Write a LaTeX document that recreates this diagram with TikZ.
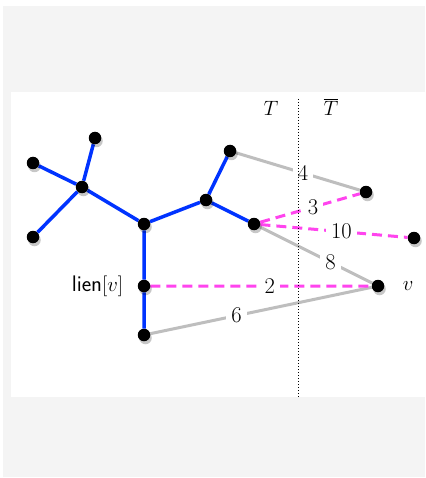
\documentclass[tikz,border=0pt]{standalone}
\usetikzlibrary{positioning,shadows}
\definecolor{arbre}{RGB}{0,51,255}
\definecolor{rose}{RGB}{255,68,238}
\definecolor{gris}{RGB}{190,190,190}
\definecolor{fond}{RGB}{244,244,244}
\pgfdeclarelayer{back}
\pgfdeclarelayer{edges}
\pgfsetlayers{back,edges,main}
\begin{document}
\begin{tikzpicture}[x=1pt, y=-1pt, line join=round,
	font=\fontsize{22.5}{26}\selectfont,
	dot/.style={circle, fill=black, inner sep=0pt, minimum size=12.5pt,
		drop shadow={shadow xshift=1.5pt, shadow yshift=-3pt, fill=black, opacity=.22, minimum size=16pt}},
	tree/.style={arbre, line width=3.5pt},
	cand/.style={rose, line width=3pt, dash pattern=on 10pt off 6pt},
	other/.style={gris, line width=3pt},
	w/.style={fill=white, text=black, inner xsep=5pt, inner ysep=1pt}]
	\useasboundingbox (0,0) rectangle (425,478);
	\begin{pgfonlayer}{back}
		\fill[fond] (3,6) rectangle (425,477);
		\fill[white] (11,92) rectangle (425,397);
	\end{pgfonlayer}
	\foreach \n/\x/\y in {t1/95/138, t2/33/163, t3/33/237, t4/82/187, t5/144/224, t6/206/200, t7/230/151, t8/254/224, lien/144/286, t9/144/335, u1/366/192, u2/414/238, v/378/286}
		\node[dot] (\n) at (\x,\y) {};
	\path (298,99) coordinate (cutTop) (298,397) coordinate (cutBot);
	\begin{pgfonlayer}{edges}
		\draw[tree] (t1)--(t4) (t2)--(t4) (t3)--(t4) (t4)--(t5)--(t6)--(t7) (t6)--(t8) (t5)--(lien)--(t9);
		\draw[other] (t7)--(u1) node[w,pos=.54]{4} (t8)--(v) node[w,pos=.63]{8} (t9)--(v) node[w,pos=.39]{6};
		\draw[cand] (t8)--(u1) node[w,pos=.53]{3} (t8)--(u2) node[w,pos=.55]{10} (lien)--(v) node[w,pos=.54]{2};
		\draw[dotted, line width=1pt] (cutTop)--(cutBot);
	\end{pgfonlayer}
	\node (lT) at (271,108) {$T$};
	\node (lTbar) at (331,107) {$\overline{T}$};
	\node[right=15pt of v] (lv) {$v$};
	\node[left=11pt of lien] (llien) {\textsf{lien}$[v]$};
\end{tikzpicture}
\end{document}
